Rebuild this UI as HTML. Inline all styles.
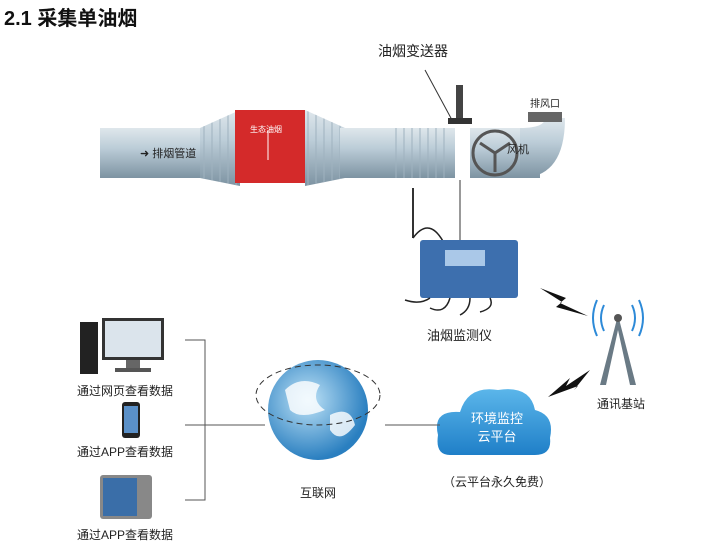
<!DOCTYPE html>
<html><head><meta charset="utf-8"><style>
body{margin:0;width:723px;height:550px;background:#fff;overflow:hidden;font-family:"Liberation Sans","Noto Sans CJK SC",sans-serif;}
svg text{font-family:"Liberation Sans","Noto Sans CJK SC",sans-serif;}
</style></head><body>
<svg width="723" height="550" viewBox="0 0 723 550" xmlns="http://www.w3.org/2000/svg">
<defs>
<linearGradient id="pipe" x1="0" y1="0" x2="0" y2="1"><stop offset="0" stop-color="#dfe7ec"/><stop offset="0.4" stop-color="#bccdd8"/><stop offset="1" stop-color="#7d93a2"/></linearGradient>
<pattern id="rib" width="8" height="46" patternUnits="userSpaceOnUse"><rect width="8" height="46" fill="none"/><line x1="4" y1="0" x2="4" y2="46" stroke="#9fb2bf" stroke-width="1"/></pattern>
<radialGradient id="globe" cx="0.4" cy="0.4" r="0.6"><stop offset="0" stop-color="#bfe3f7"/><stop offset="1" stop-color="#2a7fc0"/></radialGradient>
<linearGradient id="cloud" x1="0" y1="0" x2="0" y2="1"><stop offset="0" stop-color="#5bb6ea"/><stop offset="1" stop-color="#1f7fc8"/></linearGradient>
</defs>
<text x="4" y="25" font-size="20" font-weight="bold" fill="#111">2.1 采集单油烟</text>
<!-- duct -->
<rect x="100" y="128" width="120" height="50" fill="url(#pipe)"/>
<polygon points="200,128 240,110 240,186 200,178" fill="url(#pipe)"/>
<polygon points="200,128 240,110 240,186 200,178" fill="url(#rib)"/>
<polygon points="305,110 345,128 345,178 305,186" fill="url(#pipe)"/>
<polygon points="305,110 345,128 345,178 305,186" fill="url(#rib)"/>
<rect x="340" y="128" width="115" height="50" fill="url(#pipe)"/>
<rect x="390" y="128" width="60" height="50" fill="url(#rib)"/>
<rect x="470" y="128" width="70" height="50" fill="url(#pipe)"/>
<path d="M520,128 Q545,128 545,118 L565,118 Q565,178 520,178 Z" fill="url(#pipe)"/>
<rect x="528" y="112" width="34" height="10" fill="#666"/>
<rect x="235" y="110" width="70" height="73" fill="#d42a2a"/>
<line x1="268" y1="130" x2="268" y2="160" stroke="#fff"/>
<text x="250" y="132" font-size="8" fill="#fff">生态油烟</text>
<circle cx="495" cy="153" r="22" fill="none" stroke="#555" stroke-width="3"/>
<path d="M495,153 L480,143 M495,153 L510,143 M495,153 L495,172" stroke="#555" stroke-width="3"/>
<text x="140" y="157" font-size="11" fill="#222">➜ 排烟管道</text>
<text x="507" y="153" font-size="11" fill="#222">风机</text>
<text x="530" y="107" font-size="10" fill="#222">排风口</text>
<!-- sensor -->
<text x="378" y="56" font-size="14" fill="#222">油烟变送器</text>
<line x1="425" y1="70" x2="452" y2="120" stroke="#333"/>
<rect x="456" y="85" width="7" height="35" fill="#444"/>
<rect x="448" y="118" width="24" height="6" fill="#333"/>
<line x1="460" y1="180" x2="460" y2="242" stroke="#333"/>
<!-- monitor -->
<line x1="413" y1="188" x2="413" y2="238" stroke="#333" stroke-width="2"/>
<path d="M413,238 Q430,215 445,245" fill="none" stroke="#222" stroke-width="1.5"/>
<rect x="420" y="240" width="98" height="58" rx="3" fill="#3d6fae"/>
<rect x="445" y="250" width="40" height="16" fill="#aac8e8"/>
<path d="M430,298 Q420,305 405,300 M450,298 Q445,315 430,308 M470,298 Q470,310 460,315 M490,298 Q495,308 480,312" stroke="#222" fill="none" stroke-width="1.5"/>
<text x="427" y="340" font-size="13" fill="#222">油烟监测仪</text>
<!-- lightning -->
<polygon points="540,288 566,298 560,303 588,316 556,307 562,302" fill="#111"/>
<polygon points="548,397 570,378 566,386 590,370 574,390 578,386" fill="#111"/>
<!-- tower -->
<polygon points="618,315 600,385 606,385 618,330 630,385 636,385" fill="#6a7a85"/>
<circle cx="618" cy="318" r="4" fill="#555"/>
<path d="M604,305 Q598,318 604,331 M632,305 Q638,318 632,331 M597,300 Q589,318 597,336 M639,300 Q647,318 639,336" fill="none" stroke="#2d8ad8" stroke-width="2"/>
<text x="597" y="408" font-size="12" fill="#222">通讯基站</text>
<!-- cloud -->
<path d="M450,455 Q435,455 438,435 Q432,410 460,412 Q468,385 498,390 Q530,385 535,410 Q555,415 550,438 Q552,455 535,455 Z" fill="url(#cloud)"/>
<text x="497" y="423" font-size="13" fill="#fff" text-anchor="middle">环境监控</text>
<text x="497" y="441" font-size="13" fill="#fff" text-anchor="middle">云平台</text>
<text x="497" y="486" font-size="12" fill="#222" text-anchor="middle">（云平台永久免费）</text>
<line x1="385" y1="425" x2="440" y2="425" stroke="#555"/>
<!-- globe -->
<circle cx="318" cy="410" r="50" fill="url(#globe)"/>
<path d="M285,390 Q300,375 320,385 Q310,400 325,410 Q300,420 290,410 Z M330,415 Q350,405 355,425 Q340,445 330,430 Z" fill="#fff" opacity="0.8"/>
<ellipse cx="318" cy="395" rx="62" ry="30" fill="none" stroke="#333" stroke-dasharray="6 4"/>
<text x="318" y="497" font-size="12" fill="#222" text-anchor="middle">互联网</text>
<!-- bracket -->
<path d="M185,340 L205,340 L205,500 L185,500 M205,425 L265,425 M185,425 L205,425" fill="none" stroke="#555"/>
<!-- computer -->
<rect x="80" y="322" width="18" height="52" fill="#222"/>
<rect x="102" y="318" width="62" height="42" fill="#333"/>
<rect x="105" y="321" width="56" height="36" fill="#dbe4ec"/>
<rect x="126" y="360" width="14" height="8" fill="#666"/>
<rect x="115" y="368" width="36" height="4" fill="#555"/>
<text x="125" y="395" font-size="12" fill="#222" text-anchor="middle">通过网页查看数据</text>
<rect x="122" y="402" width="18" height="36" rx="3" fill="#222"/>
<rect x="124" y="406" width="14" height="27" fill="#5a90c8"/>
<text x="125" y="456" font-size="12" fill="#222" text-anchor="middle">通过APP查看数据</text>
<rect x="100" y="475" width="52" height="44" rx="3" fill="#888"/>
<rect x="103" y="478" width="34" height="38" fill="#3a6ea8"/>
<text x="125" y="539" font-size="12" fill="#222" text-anchor="middle">通过APP查看数据</text>
</svg>
</body></html>
